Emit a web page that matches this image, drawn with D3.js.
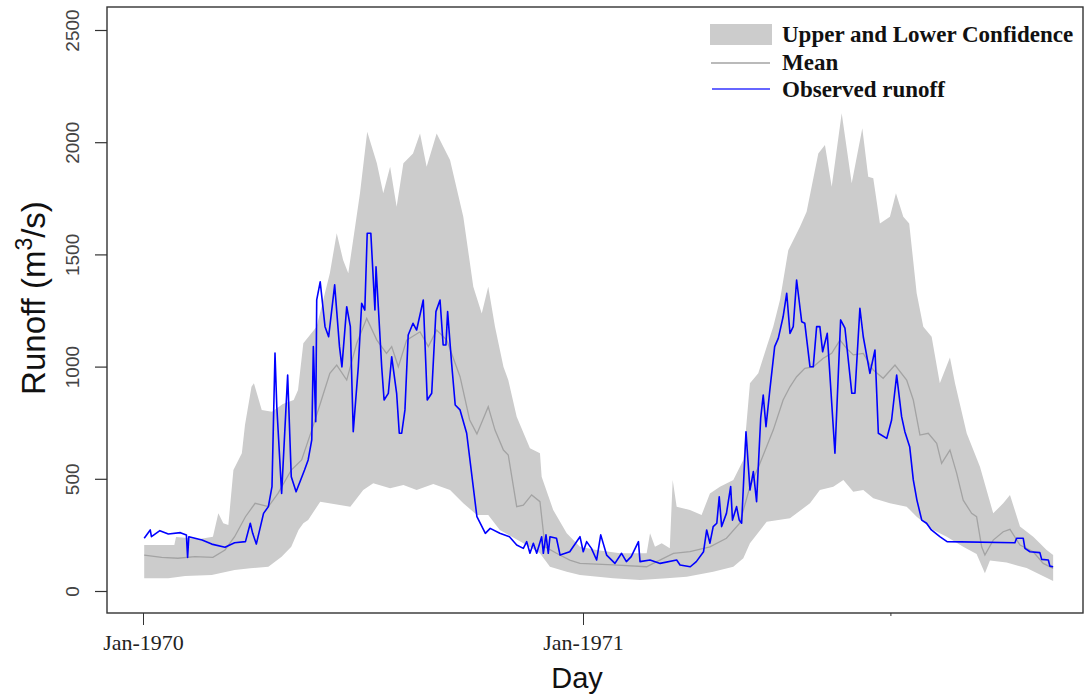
<!DOCTYPE html>
<html lang="en">
<head>
<meta charset="utf-8">
<script src="https://cdn.jsdelivr.net/npm/d3@7"></script>
<style>
  body { margin: 0; background: #fff; }
  svg { display: block; }
</style>
</head>
<body>
<script>
// day offsets from 1 Jan 1970, values in m3/s
var observed = [
  [1,235],[6,272],[7,242],[14,269],[21,254],[31,260],[36,250],[37,150],[38,242],[49,227],
  [57,209],[68,195],[76,215],[85,220],[89,302],[91,257],[94,209],[100,346],[104,376],[107,465],
  [109.5,1060],[111,821],[115,435],[120,962],[123,509],[127,442],[134,539],[137,584],[140,673],[141.3,1089],
  [143.3,754],[144.1,1297],[147,1378],[151,1178],[154,1133],[159,1364],[163,1089],[165,999],[169,1267],[172,1178],
  [174.4,710],[178.6,999],[181.4,1282],[184,1252],[186,1594],[189,1594],[192.4,1252],[193.3,1445],[195.2,1267],[198,999],
  [200,851],[203.5,881],[206.3,1044],[210.4,881],[212.6,703],[214.6,703],[217.3,807],[220,1141],[224,1193],[227,1163],
  [232.5,1297],[235.8,851],[239.5,881],[243,1245],[246.4,1297],[249,1096],[251.3,1096],[252.7,1245],[256,1015],[259,829],
  [263,807],[268.5,703],[277,331],[284,257],[288,279],[296,257],[304,242],[310,205],[315.5,190],[318.3,220],
  [321,168],[323.8,213],[326.6,168],[330.7,242],[332.1,168],[334.3,250],[336.2,168],[337.6,242],[343,235],[346,160],
  [354,175],[362.5,242],[365.2,175],[368,220],[372,190],[376.3,138],[379.7,250],[384.6,160],[391.5,123],[397,168],
  [401,131],[405,153],[411,220],[412.3,131],[420.6,138],[429,123],[442.7,138],[445.5,116],[454,108],[459,131],
  [465,175],[467.6,272],[470.3,213],[473,287],[476,302],[478,420],[480,287],[484,346],[487.5,465],[489,316],
  [492.4,376],[494.6,316],[496.6,302],[500.2,710],[503.5,450],[506.3,532],[509,398],[512.4,770],[514.5,873],[516.8,732],
  [520,896],[524,1089],[527,1126],[531,1222],[534,1327],[536.7,1148],[539.4,1178],[542.2,1386],[546.4,1200],[549,1193],
  [553.3,999],[556,999],[558.8,1178],[561.5,1178],[563.8,1066],[567.6,1148],[574,614],[578.7,1208],[582.3,1171],[588,881],
  [590.6,881],[594.7,1260],[597.5,1133],[603,970],[607.2,1074],[610,703],[617,680],[621,762],[625.2,962],[629.3,777],
  [632,710],[636,643],[639,495],[642,405],[646,316],[650,302],[654,272],[661,242],[667,220],[723.3,215],
  [724.7,235],[730.2,235],[731.6,190],[735.8,175],[744,171],[745.5,141],[751,138],[752.3,111],[755,108]
];

var upperCI = [
  [1,205],[26,205],[27.4,241],[47,232],[58,242],[62.5,346],[66.6,302],[70.8,294],[75,539],[82,614],
  [84.6,740],[90,910],[92,926],[98.5,807],[107,799],[116,833],[125,851],[128.6,896],[133,1104],[144,1178],
  [155,1416],[160.7,1594],[166,1475],[170.3,1416],[180,1772],[186,2047],[194,1906],[199.3,1772],[205,1891],[210.4,1712],
  [216,1906],[224,1950],[229.8,2039],[235.3,1891],[243.6,2039],[254.7,1921],[265.7,1668],[274,1356],[281,1237],[286.4,1356],
  [292,1178],[299,999],[303,940],[310,777],[321,636],[329.3,614],[330.7,509],[340.3,361],[351.5,257],[362.5,197],
  [376.3,183],[395.7,168],[417.8,168],[420.6,257],[424.7,197],[430.3,213],[437,190],[439.4,495],[442.7,376],[453.7,361],
  [463.4,339],[470.3,435],[478.6,465],[489.7,495],[498,584],[503.5,926],[510.4,970],[517.4,1089],[522.8,1178],[528.4,1297],
  [535.3,1519],[545,1623],[550.5,1690],[560.2,1950],[565.7,1987],[571.3,1802],[579.6,2129],[587.9,1817],[596.7,2062],[601.6,1846],
  [605.8,1839],[611.3,1638],[619.6,1668],[624.6,1772],[630.7,1668],[635.6,1638],[641.8,1327],[647.3,1178],[654.2,1133],[661,926],
  [669.4,1040],[673.6,926],[683.3,703],[694.3,554],[705.3,346],[713.6,391],[719.2,428],[727.5,287],[738.5,242],[749.6,183],
  [755,160]
];

var lowerCI = [
  [1,57],[21,57],[35,67],[57,71],[76,94],[89,101],[104,108],[115,153],[123,197],[129,272],
  [133,302],[137,316],[147,398],[172,376],[182.7,450],[191,480],[205,458],[216,472],[227,450],[240.8,477],
  [254.7,450],[265.7,391],[277,339],[286.4,339],[296,272],[315.5,213],[329.3,168],[337.6,108],[351.5,86],[362.5,71],
  [390,57],[412.3,49],[434.4,57],[451,64],[473,86],[489.7,108],[498,146],[503.5,213],[517.4,309],[536.7,324],
  [553.3,391],[561.5,450],[572.6,465],[581,495],[589.2,442],[597.5,450],[605.8,413],[619.6,391],[633.5,376],[641.8,331],
  [655.6,272],[666.7,242],[680.4,197],[691.5,165],[698.4,79],[702.6,136],[716.4,127],[733,102],[755,45]
];

var meanRunoff = [
  [1,160],[15.5,150],[29,146],[43,153],[58,150],[68,183],[76,242],[85,331],[93,391],[104,376],
  [112,435],[123,539],[131.6,584],[140,717],[148,851],[155,970],[160.7,1007],[169,940],[177.3,1104],[185.6,1215],
  [194,1118],[202,1059],[206.3,1089],[211.8,999],[218.7,1118],[229.8,1155],[236.7,1089],[243.6,1163],[252,1118],[263,955],
  [271,762],[277,700],[286.4,821],[292,717],[299,628],[303,606],[310,376],[315.5,383],[322.4,428],[329.3,398],
  [333.5,197],[343,168],[354,138],[362.5,123],[390,116],[417.8,108],[423.3,123],[440,168],[453.7,175],[470.3,197],
  [484,235],[495,302],[503.5,465],[511.8,569],[522.8,717],[531,851],[536.7,910],[542.2,955],[549,992],[556,999],
  [564.3,1037],[571.3,1059],[578.2,1118],[583.7,1081],[589.2,1052],[597.5,1059],[605.8,985],[614,948],[623.8,1007],[633.5,940],
  [639,851],[644.5,695],[651.4,703],[658.4,658],[662.5,569],[669.4,628],[675,524],[680.4,405],[687.4,346],[691.5,331],
  [695.7,197],[698.4,160],[705.3,227],[713.6,264],[719.2,275],[727.5,205],[738.5,175],[746.8,123],[755,101]
];

var yTicks = [0, 500, 1000, 1500, 2000, 2500];
var xTickDays = [0, 365, 620];
var xTickLabels = ["Jan-1970", "Jan-1971", ""];
var legendLabels = ["Upper and Lower Confidence", "Mean", "Observed runoff"];

var w = 1084, h = 695;
var box = {left: 107, right: 1083, top: 7, bottom: 613};
var t0 = Date.UTC(1970, 0, 1);
function toDate(d) { return new Date(t0 + d * 864e5); }

var svg = d3.select("body").append("svg")
  .attr("width", w).attr("height", h);

var x = d3.scaleUtc()
  .domain([toDate(0), toDate(365)])
  .range([143, 583]);
var y = d3.scaleLinear()
  .domain([0, 2500])
  .range([591, 30]);

var line = d3.line()
  .x(function(d) { return x(toDate(d[0])); })
  .y(function(d) { return y(d[1]); });

// confidence band: upper forward, lower back
var band = upperCI.concat(lowerCI.slice().reverse());
svg.append("path")
  .attr("d", line(band) + "Z")
  .attr("fill", "#cccccc")
  .attr("stroke", "none");

svg.append("path")
  .attr("d", line(meanRunoff))
  .attr("fill", "none")
  .attr("stroke", "#a3a3a3")
  .attr("stroke-width", 1.3);

svg.append("path")
  .attr("d", line(observed))
  .attr("fill", "none")
  .attr("stroke", "#0000ff")
  .attr("stroke-width", 1.6)
  .attr("stroke-linejoin", "round");

// box
svg.append("rect")
  .attr("x", box.left).attr("y", box.top)
  .attr("width", box.right - box.left).attr("height", box.bottom - box.top)
  .attr("fill", "none").attr("stroke", "#333").attr("stroke-width", 1.4);

// y axis
var yAxis = svg.append("g")
  .attr("transform", "translate(" + box.left + ",0)")
  .call(d3.axisLeft(y).tickValues(yTicks).tickSize(12).tickPadding(0).tickFormat(d3.format("d")));
yAxis.select(".domain").remove();
yAxis.selectAll("line").attr("stroke", "#333").attr("stroke-width", 1.2);
yAxis.selectAll("text")
  .attr("transform", "translate(-35,0) rotate(-90)")
  .attr("x", 0).attr("y", 0).attr("dy", "0.35em")
  .style("text-anchor", "middle")
  .style("font-family", "'Liberation Sans', Arial, sans-serif")
  .style("font-size", "19px")
  .attr("fill", "#444");

// x axis
var xAxis = svg.append("g")
  .attr("transform", "translate(0," + box.bottom + ")")
  .call(d3.axisBottom(x).tickValues(xTickDays.map(toDate)).tickSize(12).tickPadding(9)
    .tickFormat(function(d, i) { return xTickLabels[i]; }));
xAxis.select(".domain").remove();
xAxis.selectAll("line").attr("stroke", "#333").attr("stroke-width", 1)
  .attr("y2", function(d, i) { return xTickLabels[i] ? 12 : 3; });
xAxis.selectAll("text")
  .style("font-family", "'Liberation Serif', 'Times New Roman', serif")
  .style("font-size", "22px")
  .attr("fill", "#222");

// axis titles
svg.append("text")
  .attr("x", 577).attr("y", 688)
  .attr("text-anchor", "middle")
  .style("font-family", "'Liberation Sans', Arial, sans-serif")
  .style("font-size", "29px")
  .attr("fill", "#111")
  .text("Day");

var yTitle = svg.append("text")
  .attr("transform", "translate(45,298) rotate(-90)")
  .attr("text-anchor", "middle")
  .style("font-family", "'Liberation Sans', Arial, sans-serif")
  .style("font-size", "33px")
  .attr("fill", "#111");
yTitle.append("tspan").text("Runoff (m");
yTitle.append("tspan").attr("dy", -13).style("font-size", "23px").text("3");
yTitle.append("tspan").attr("dy", 13).text("/s)");

// legend
var lg = svg.append("g");
lg.append("rect").attr("x", 710).attr("y", 24).attr("width", 62).attr("height", 21).attr("fill", "#cccccc");
lg.append("line").attr("x1", 711).attr("x2", 770).attr("y1", 63).attr("y2", 63)
  .attr("stroke", "#a3a3a3").attr("stroke-width", 1.3);
lg.append("line").attr("x1", 712).attr("x2", 770).attr("y1", 89).attr("y2", 89)
  .attr("stroke", "#3333ff").attr("stroke-width", 1.5);
lg.selectAll("text.lab").data(legendLabels).enter().append("text")
  .attr("class", "lab")
  .attr("x", 782)
  .attr("y", function(d, i) { return [42, 70, 97][i]; })
  .style("font-family", "'Liberation Serif', 'Times New Roman', serif")
  .style("font-weight", "bold")
  .style("font-size", "23px")
  .attr("fill", "#111")
  .text(function(d) { return d; });
</script>
</body>
</html>
